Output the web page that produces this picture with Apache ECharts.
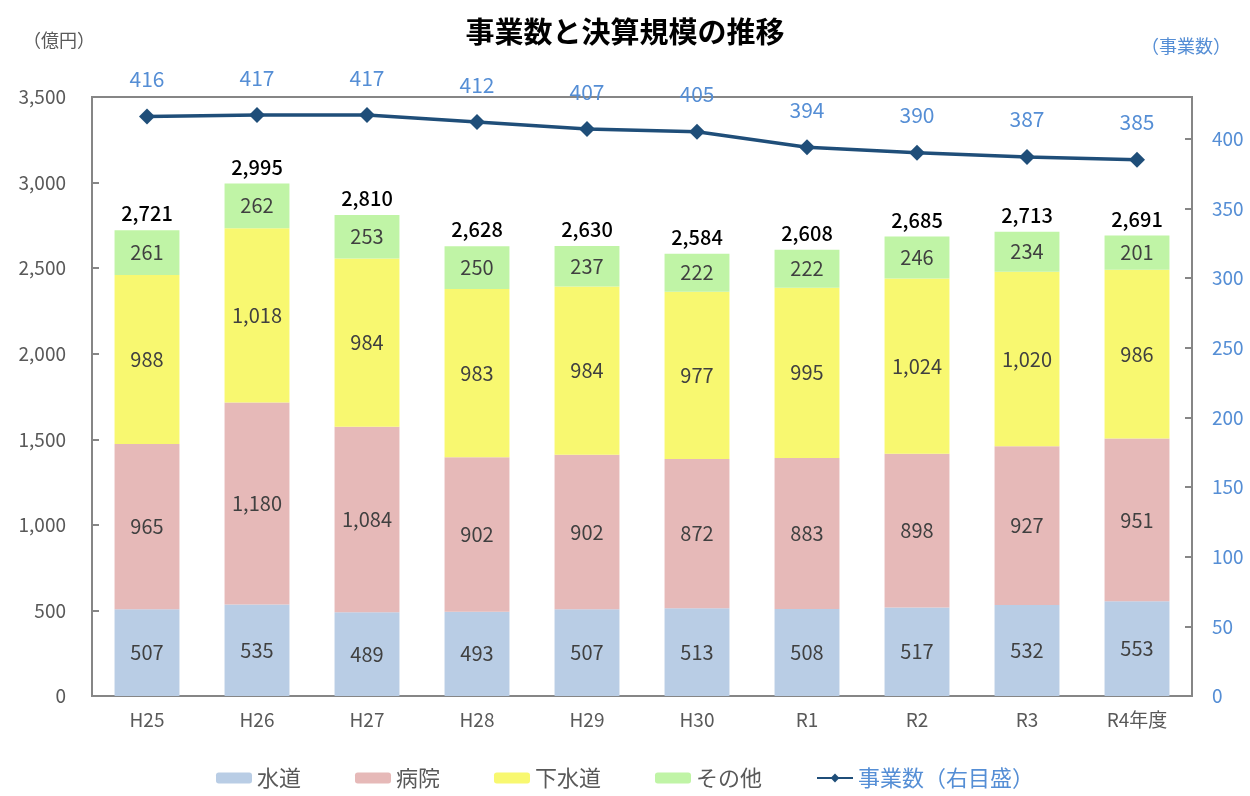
<!DOCTYPE html>
<html>
<head>
<meta charset="utf-8">
<script src="https://cdn.jsdelivr.net/npm/echarts@6/dist/echarts.min.js"></script>
<style>
  html, body { margin: 0; padding: 0; background: #fff; }
  #chart { width: 1250px; height: 796px; }
</style>
</head>
<body>
<div id="chart"></div>
<script>
// 年度
const years = ['H25', 'H26', 'H27', 'H28', 'H29', 'H30', 'R1', 'R2', 'R3', 'R4年度']
// 決算規模（億円）
const suido = [507, 535, 489, 493, 507, 513, 508, 517, 532, 553]
const byoin = [965, 1180, 1084, 902, 902, 872, 883, 898, 927, 951]
const gesuido = [988, 1018, 984, 983, 984, 977, 995, 1024, 1020, 986]
const sonota = [261, 262, 253, 250, 237, 222, 222, 246, 234, 201]
const totals = [2721, 2995, 2810, 2628, 2630, 2584, 2608, 2685, 2713, 2691]
// 事業数
const jigyosu = [416, 417, 417, 412, 407, 405, 394, 390, 387, 385]

const FONT = 'Noto Sans CJK JP'
const fmt = v => Number(v).toLocaleString('en-US')

const chart = echarts.init(document.getElementById('chart'))

const barLabel = {
  show: true,
  position: 'inside',
  fontFamily: FONT,
  fontSize: 20,
  color: '#404040',
  formatter: p => fmt(p.value)
}

const makeBar = (name, data, color) => ({
  name,
  type: 'bar',
  stack: 'total',
  data,
  barWidth: '59%',
  itemStyle: { color },
  label: barLabel,
  emphasis: { disabled: true }
})

const option = {
  animation: false,
  textStyle: { fontFamily: FONT },
  title: [
    {
      text: '事業数と決算規模の推移',
      left: 'center',
      top: 12,
      textStyle: { fontFamily: FONT, fontSize: 29, fontWeight: 'bold', color: '#000' }
    },
    {
      text: '（億円）',
      left: 18,
      top: 26,
      textStyle: { fontFamily: FONT, fontSize: 18, fontWeight: 'normal', color: '#595959' }
    },
    {
      text: '（事業数）',
      right: 14,
      top: 32,
      textStyle: { fontFamily: FONT, fontSize: 18, fontWeight: 'normal', color: '#558ed5' }
    }
  ],
  legend: {
    bottom: 2,
    left: 'center',
    itemWidth: 36,
    itemHeight: 11,
    itemGap: 54,
    data: [
      '水道', '病院', '下水道', 'その他',
      { name: '事業数（右目盛）', textStyle: { color: '#558ed5' } }
    ],
    textStyle: { fontFamily: FONT, fontSize: 22, color: '#595959' }
  },
  grid: {
    left: 92,
    right: 58,
    top: 97,
    bottom: 100,
    show: true,
    borderColor: '#868686',
    borderWidth: 2
  },
  xAxis: {
    type: 'category',
    data: years,
    axisLine: { lineStyle: { color: '#868686', width: 2 } },
    axisTick: { show: false },
    axisLabel: { fontFamily: FONT, fontSize: 19, color: '#595959', margin: 14 }
  },
  yAxis: [
    {
      type: 'value',
      min: 0,
      max: 3500,
      interval: 500,
      splitLine: { show: false },
      axisLine: { show: true, lineStyle: { color: '#868686', width: 2 } },
      axisTick: { show: true, inside: true, length: 7, lineStyle: { color: '#868686', width: 2 } },
      axisLabel: { fontFamily: FONT, fontSize: 19, color: '#595959', margin: 26, formatter: v => fmt(v) }
    },
    {
      type: 'value',
      min: 0,
      max: 430,
      interval: 50,
      splitLine: { show: false },
      axisLine: { show: true, lineStyle: { color: '#868686', width: 2 } },
      axisTick: { show: true, inside: true, length: 7, lineStyle: { color: '#868686', width: 2 } },
      axisLabel: { fontFamily: FONT, fontSize: 19, color: '#558ed5', margin: 20, showMaxLabel: false }
    }
  ],
  series: [
    makeBar('水道', suido, '#b9cde5'),
    makeBar('病院', byoin, '#e6b9b8'),
    makeBar('下水道', gesuido, '#f8f870'),
    makeBar('その他', sonota, '#c0f4a6'),
    {
      name: '合計',
      type: 'line',
      data: totals,
      symbol: 'circle',
      symbolSize: 1,
      itemStyle: { color: 'rgba(0,0,0,0)' },
      lineStyle: { opacity: 0 },
      silent: true,
      label: {
        show: true,
        position: 'top',
        distance: 6,
        fontFamily: FONT,
        fontSize: 20,
        fontWeight: 500,
        color: '#000',
        formatter: p => fmt(p.value)
      },
      z: 5
    },
    {
      name: '事業数（右目盛）',
      type: 'line',
      yAxisIndex: 1,
      data: jigyosu,
      symbol: 'diamond',
      symbolSize: 16,
      lineStyle: { color: '#1f4e79', width: 3.5 },
      itemStyle: { color: '#1f4e79' },
      label: {
        show: true,
        position: 'top',
        distance: 19,
        fontFamily: FONT,
        fontSize: 21,
        color: '#558ed5'
      },
      z: 6
    }
  ]
}

chart.setOption(option)
window.addEventListener('resize', () => chart.resize())
</script>
</body>
</html>
